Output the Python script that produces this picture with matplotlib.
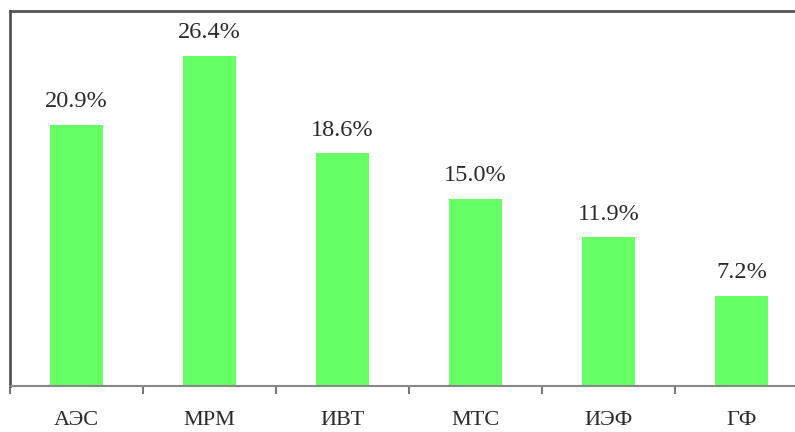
import numpy as np
import matplotlib.pyplot as plt

categories = ["АЭС", "МРМ", "ИВТ", "МТС", "ИЭФ", "ГФ"]
values = [20.9, 26.4, 18.6, 15.0, 11.9, 7.2]

plt.rcParams['font.family'] = ['Liberation Serif', 'DejaVu Serif']

fig = plt.figure(figsize=(7.95, 4.32), dpi=100)
ax = fig.add_axes([10 / 795, 46 / 432, 798 / 795, 375 / 432])

x = np.arange(len(categories))
ax.bar(x, values, width=0.4, color="#66FF66", zorder=2)

for xi, v in zip(x, values):
    ax.annotate(f"{v:.1f}%", (xi, v), xytext=(0, 9), textcoords="offset points",
                ha="center", va="bottom", fontsize=17.5, color="#2a2a2a")

ax.set_xlim(-0.5, len(categories) - 0.5)
ax.set_ylim(0, 30)
ax.set_yticks([])
ax.set_xticks(x)
ax.set_xticklabels(categories, fontsize=16, color="#2a2a2a")
ax.tick_params(axis="x", which="major", length=0, pad=18)
ax.set_xticks(np.arange(len(categories) + 1) - 0.5, minor=True)
ax.tick_params(axis="x", which="minor", length=6, width=1.5, color="#777777", direction="out")

for side in ["top", "left", "right"]:
    ax.spines[side].set_color("#555555")
    ax.spines[side].set_linewidth(2)
ax.spines["bottom"].set_color("#888888")
ax.spines["bottom"].set_linewidth(1.5)

fig.savefig("out.png", dpi=100)
